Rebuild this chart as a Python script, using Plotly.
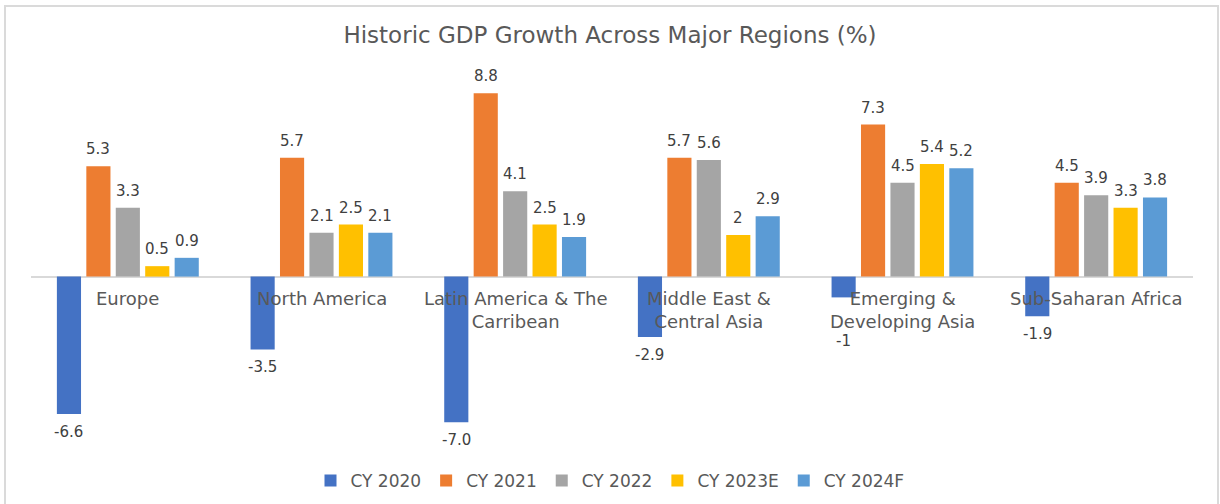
import plotly.graph_objects as go

categories = ["Europe", "North America", "Latin America & The<br>Carribean",
              "Middle East &<br>Central Asia", "Emerging &<br>Developing Asia",
              "Sub-Saharan Africa"]
series_names = ["CY 2020", "CY 2021", "CY 2022", "CY 2023E", "CY 2024F"]
cy2020 = [-6.6, -3.5, -7.0, -2.9, -1.0, -1.9]
cy2021 = [5.3, 5.7, 8.8, 5.7, 7.3, 4.5]
cy2022 = [3.3, 2.1, 4.1, 5.6, 4.5, 3.9]
cy2023e = [0.5, 2.5, 2.5, 2.0, 5.4, 3.3]
cy2024f = [0.9, 2.1, 1.9, 2.9, 5.2, 3.8]
labels2020 = ["-6.6", "-3.5", "-7.0", "-2.9", "-1", "-1.9"]
labels2021 = ["5.3", "5.7", "8.8", "5.7", "7.3", "4.5"]
labels2022 = ["3.3", "2.1", "4.1", "5.6", "4.5", "3.9"]
labels2023e = ["0.5", "2.5", "2.5", "2", "5.4", "3.3"]
labels2024f = ["0.9", "2.1", "1.9", "2.9", "5.2", "3.8"]
colors = ["#4472C4", "#ED7D31", "#A5A5A5", "#FFC000", "#5B9BD5"]

values = [cy2020, cy2021, cy2022, cy2023e, cy2024f]
labels = [labels2020, labels2021, labels2022, labels2023e, labels2024f]

FONT = "'DejaVu Sans', sans-serif"

W, H = 1220, 504
ml, mr, mt, mb = 31, 27, 60, 65
pw, ph = W - ml - mr, H - mt - mb
BARGAP = 0.24
BARGROUPGAP = 0.18

fig = go.Figure()
for name, vals, col in zip(series_names, values, colors):
    fig.add_trace(go.Bar(
        name=name, x=categories, y=vals, marker_color=col,
        marker_line_width=0,
    ))

annotations = []
# category labels sitting just under the zero line
for cat in categories:
    annotations.append(dict(
        x=cat, y=0, xref="x", yref="y", text=cat, showarrow=False,
        yanchor="top", yshift=-9, align="center",
        font=dict(family=FONT, size=18, color="#595959"),
    ))

# data labels, anchored on each bar's category/value; horizontal offset of the
# bar inside its group follows from the grouped-bar geometry
group_px = pw / len(categories)
slot_px = group_px * (1 - BARGAP) / len(series_names)
extra_drop = {("CY 2020", 4): 26}  # label moved down (as in the original) to clear the category text
for si, (name, vals, labs) in enumerate(zip(series_names, values, labels)):
    xs = (si - (len(series_names) - 1) / 2) * slot_px
    for ci, (cat, v, t) in enumerate(zip(categories, vals, labs)):
        pos = v >= 0
        annotations.append(dict(
            x=cat, y=v, xref="x", yref="y", text=t, showarrow=False,
            xshift=xs, yanchor="bottom" if pos else "top",
            yshift=6 if pos else -7 - extra_drop.get((name, ci), 0),
            font=dict(family=FONT, size=15, color="#404040"),
        ))

def px2paper_x(px):
    return (px - ml) / pw

def px2paper_y(py):
    return (H - mb - py) / ph

shapes = [dict(type="rect", xref="paper", yref="paper",
               x0=px2paper_x(5), x1=px2paper_x(1218),
               y0=px2paper_y(510), y1=px2paper_y(6),
               line=dict(color="#DADADA", width=2), fillcolor="rgba(0,0,0,0)",
               layer="below")]

fig.update_layout(
    width=W, height=H,
    margin=dict(l=ml, r=mr, t=mt, b=mb, autoexpand=False),
    paper_bgcolor="white", plot_bgcolor="white",
    title=dict(text="Historic GDP Growth Across Major Regions (%)",
               x=0.5, xanchor="center", xref="container",
               yref="container", y=1 - 35 / H, yanchor="middle",
               font=dict(family=FONT, size=23, color="#595959")),
    barmode="group", bargap=BARGAP, bargroupgap=BARGROUPGAP,
    xaxis=dict(showticklabels=False, showgrid=False, zeroline=False,
               showline=False, ticks=""),
    yaxis=dict(range=[-7.8, 10.4], showticklabels=False, showgrid=False,
               zeroline=True, zerolinecolor="#D9D9D9", zerolinewidth=2,
               showline=False),
    legend=dict(orientation="h", xref="container", x=0.5, xanchor="center",
                yref="container", y=(H - 481) / H, yanchor="middle",
                font=dict(family=FONT, size=17, color="#595959"),
                itemwidth=30, traceorder="normal", tracegroupgap=0),
    annotations=annotations, shapes=shapes,
    showlegend=True,
)

fig.write_html("out.html", config={"displayModeBar": False},
               post_script="document.body.style.margin='0';")
